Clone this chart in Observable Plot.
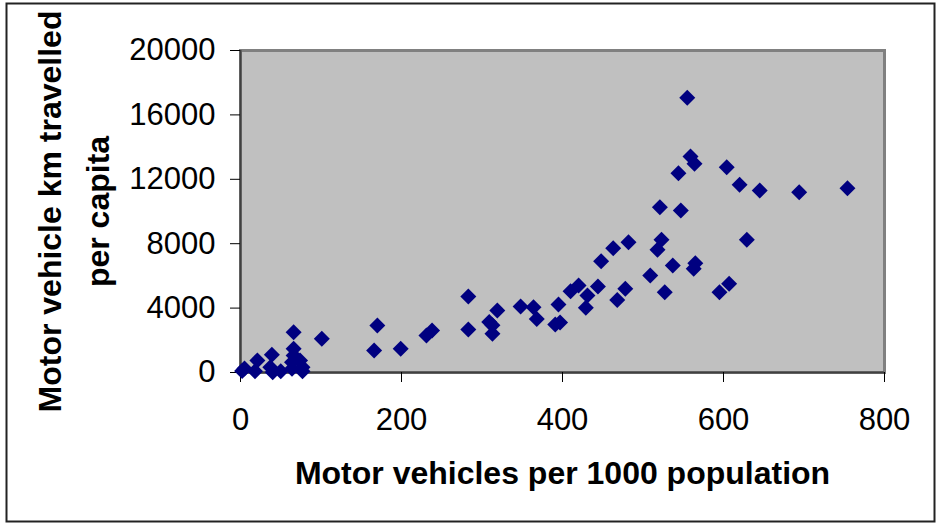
<!DOCTYPE html>
<html><head><meta charset="utf-8">
<script src="https://cdn.jsdelivr.net/npm/d3@7"></script>
<script src="https://cdn.jsdelivr.net/npm/@observablehq/plot@0.6"></script>
<style>body{margin:0;background:#fff;}</style>
</head><body><div id="chart"></div>
<script>
const vehiclesPer1000 = [2,5,18,21,37,39,40,50,64,64,66,66,66,74,77,77,101,
  166,170,199,231,238,283,283,309,313,313,319,348,364,368,391,397,395,410,420,429,431,444,448,463,468,478,482,
  509,518,521,523,527,537,544,547,555,559,563,564,565,595,604,607,620,629,645,694,754];
const kmPerCapita = [100,250,80,750,330,1100,20,80,230,640,1050,1470,2500,750,330,80,2090,
  1370,2920,1470,2300,2610,4720,2670,3140,2940,2400,3850,4100,4060,3330,2980,3100,4220,5050,5400,4020,4780,5340,6910,7720,4510,5200,8090,
  6020,7620,10270,8240,4990,6650,12380,10060,17060,13420,6440,12960,6790,4990,12750,5510,11660,8240,11300,11200,11450];
const xTicks = [0,200,400,600,800];
const yTicks = [0,4000,8000,12000,16000,20000];
const xTitle = ["Motor vehicles per 1000 population"];
const yTitleLine1 = ["Motor vehicle km travelled"];
const yTitleLine2 = ["per capita"];

const data = vehiclesPer1000.map((v, i) => ({x: v, y: kmPerCapita[i]}));

const chart = Plot.plot({
  width: 936, height: 523,
  marginLeft: 240, marginRight: 52, marginTop: 50, marginBottom: 151,
  style: {fontFamily: "'Liberation Sans', Arial, sans-serif", fontSize: "31px", color: "black", background: "white"},
  x: {domain: [0, 800], ticks: xTicks},
  y: {domain: [0, 20000], ticks: yTicks},
  marks: [
    Plot.frame({stroke: "#222", strokeWidth: 2, insetLeft: -234, insetTop: -47, insetRight: -50, insetBottom: -149}),
    Plot.frame({fill: "#c0c0c0", stroke: "#808080", strokeWidth: 3}),
    Plot.ruleX([0], {stroke: "#404040", strokeWidth: 2}),
    Plot.ruleY([0], {stroke: "#404040", strokeWidth: 2}),
    Plot.axisX({ticks: xTicks, tickSize: 10, tickPadding: 25, tickFormat: "d", label: null, fontSize: 31}),
    Plot.axisY({ticks: yTicks, tickSize: 10, tickPadding: 15, tickFormat: "d", label: null, fontSize: 31}),
    Plot.dot(data, {x: "x", y: "y", symbol: "diamond2", r: 7.2, fill: "#000080"}),
    Plot.text(xTitle, {text: d => d, frameAnchor: "bottom", dy: 111, lineAnchor: "bottom", fontWeight: "bold", fontSize: 32}),
    Plot.text(yTitleLine1, {text: d => d, frameAnchor: "left", dx: -180, rotate: -90, lineAnchor: "bottom", textAnchor: "middle", fontWeight: "bold", fontSize: 32}),
    Plot.text(yTitleLine2, {text: d => d, frameAnchor: "left", dx: -132, rotate: -90, lineAnchor: "bottom", textAnchor: "middle", fontWeight: "bold", fontSize: 32})
  ]
});
document.getElementById("chart").appendChild(chart);
</script>
</body></html>
